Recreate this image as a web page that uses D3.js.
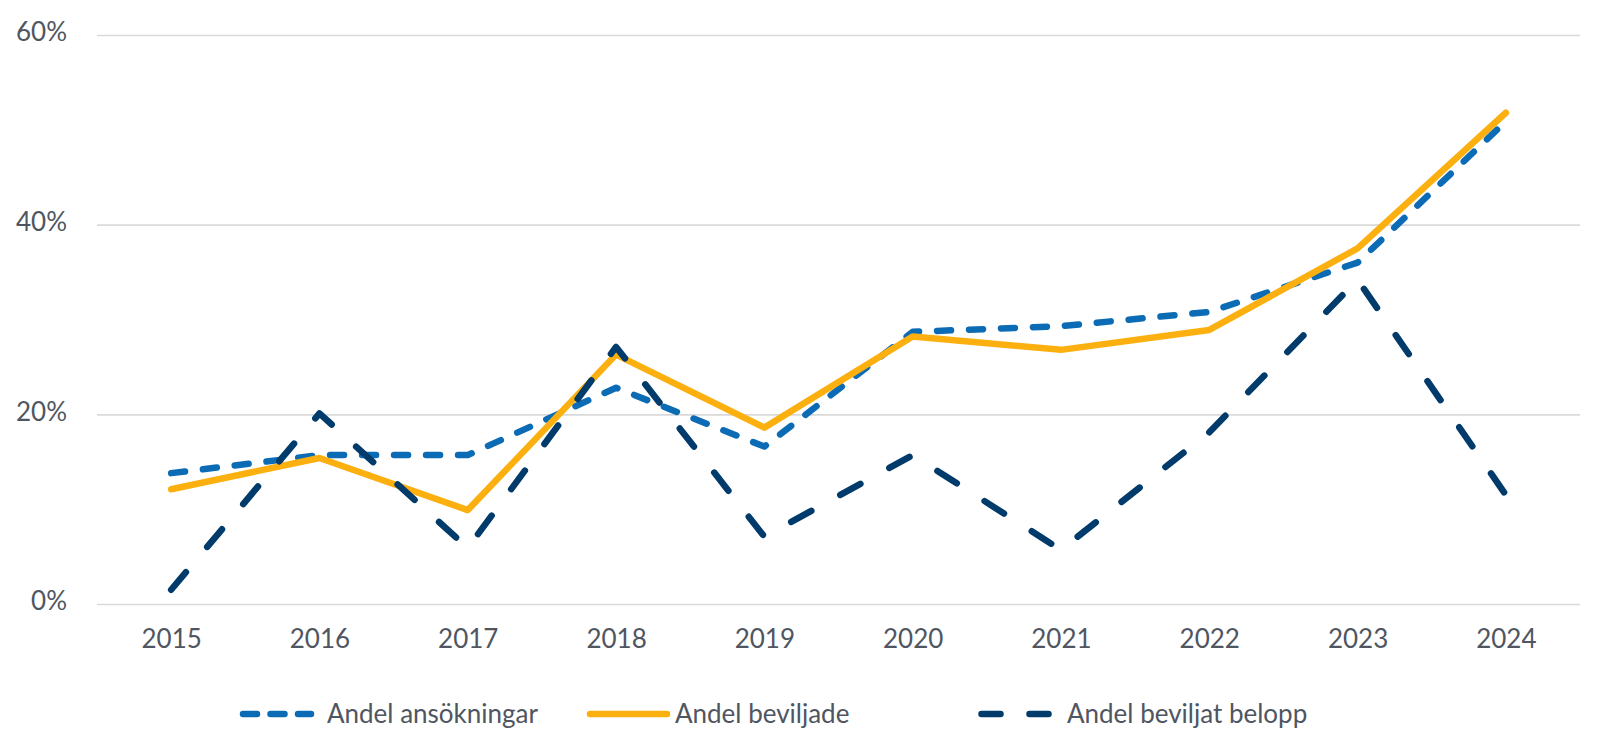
<!DOCTYPE html>
<html>
<head>
<meta charset="utf-8">
<script src="https://cdn.jsdelivr.net/npm/d3@7"></script>
<style>
    body { margin: 0; background: #fff; }
    svg text { font-family: Lato, "Open Sans", sans-serif; fill: #4f5661; }
</style>
</head>
<body>
<div id="draw"></div>
<script>
//数据
var years = ["2015", "2016", "2017", "2018", "2019", "2020", "2021", "2022", "2023", "2024"];
var ansokningar = [13.8, 15.7, 15.7, 22.8, 16.6, 28.7, 29.3, 30.8, 36.0, 50.9];
var beviljade = [12.1, 15.4, 9.9, 26.3, 18.6, 28.2, 26.8, 28.9, 37.5, 51.8];
var belopp = [1.5, 20.1, 5.9, 27.1, 7.1, 15.7, 5.7, 18.1, 34.2, 11.5];
var yTicks = [0, 20, 40, 60];
var seriesNames = ["Andel ansökningar", "Andel beviljade", "Andel beviljat belopp"];

//高宽
var w = 1600;
var h = 749;
var m_left = 97, m_right = 1580, m_top = 35, m_bottom = 604;

var svg = d3.select("#draw")
    .append("svg")
    .attr("width", w)
    .attr("height", h);

var x = d3.scalePoint()
    .domain(years)
    .range([m_left, m_right])
    .padding(0.5);

var y = d3.scaleLinear()
    .domain([0, 60])
    .range([m_bottom, m_top]);

//网格线
var yAxis = svg.append("g")
    .attr("transform", "translate(" + m_left + ",0)")
    .call(d3.axisLeft(y)
        .tickValues(yTicks)
        .tickSize(-(m_right - m_left))
        .tickPadding(30)
        .tickFormat(function(d) { return d + "%"; }));
yAxis.select(".domain").remove();
yAxis.selectAll(".tick line")
    .attr("stroke", "#d9d9d9")
    .attr("stroke-width", 1.6);
yAxis.selectAll(".tick text")
    .attr("font-size", "26px")
    .attr("dy", "0.22em");

//x轴标签
var xAxis = svg.append("g")
    .attr("transform", "translate(0," + m_bottom + ")")
    .call(d3.axisBottom(x).tickSize(0).tickPadding(26));
xAxis.select(".domain").remove();
xAxis.selectAll(".tick text")
    .attr("font-size", "26px");

var series = [
    { name: seriesNames[0], values: ansokningar, color: "#0b6bb5", dash: "14,18" },
    { name: seriesNames[1], values: beviljade, color: "#fbb010", dash: null },
    { name: seriesNames[2], values: belopp, color: "#003b6b", dash: "23,33" }
];

var line = d3.line()
    .x(function(d, i) { return x(years[i]); })
    .y(function(d) { return y(d); });

//折线
svg.selectAll("path.series")
    .data(series)
    .enter()
    .append("path")
    .attr("class", "series")
    .attr("d", function(d) { return line(d.values); })
    .attr("fill", "none")
    .attr("stroke", function(d) { return d.color; })
    .attr("stroke-width", 6.5)
    .attr("stroke-linecap", "round")
    .attr("stroke-linejoin", "round")
    .attr("stroke-dasharray", function(d) { return d.dash; });

//图例
var legendY = 714;
var legendItems = [
    { x1: 243, x2: 311, tx: 327, dash: "14,13.5" },
    { x1: 590, x2: 667, tx: 675, dash: null },
    { x1: 981.5, x2: 1048.5, tx: 1067, dash: "19,29" }
];
var legend = svg.selectAll("g.legend")
    .data(series)
    .enter()
    .append("g")
    .attr("class", "legend");
legend.append("line")
    .attr("x1", function(d, i) { return legendItems[i].x1; })
    .attr("x2", function(d, i) { return legendItems[i].x2; })
    .attr("y1", legendY)
    .attr("y2", legendY)
    .attr("stroke", function(d) { return d.color; })
    .attr("stroke-width", 6.5)
    .attr("stroke-linecap", "round")
    .attr("stroke-dasharray", function(d, i) { return legendItems[i].dash; });
legend.append("text")
    .attr("x", function(d, i) { return legendItems[i].tx; })
    .attr("y", legendY)
    .attr("dy", "0.35em")
    .attr("font-size", "26px")
    .text(function(d) { return d.name; });
</script>
</body>
</html>
